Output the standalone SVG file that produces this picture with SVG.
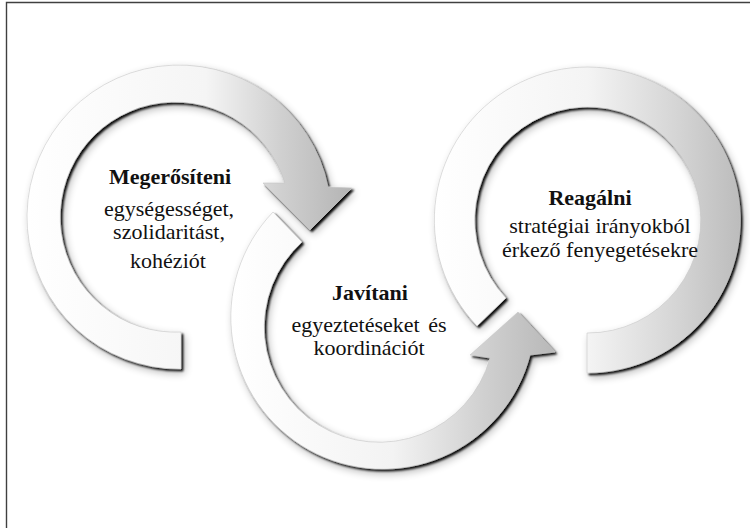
<svg xmlns="http://www.w3.org/2000/svg" width="750" height="528" viewBox="0 0 750 528">
  <style>
    .ring { stroke: #c8c8c8; stroke-width: 0.6; filter: url(#shadow); }
    .title { font-size: 22px; font-weight: bold; fill: #111; text-anchor: middle; }
    .body { font-size: 22px; font-weight: normal; fill: #111; text-anchor: middle; }
    .frame { stroke: #404040; stroke-width: 1.4; fill: none; }
  </style>
  <defs>
    <filter id="shadow" x="-10%" y="-10%" width="125%" height="125%">
      <feGaussianBlur in="SourceAlpha" stdDeviation="1.2" result="b1"/>
      <feOffset in="b1" dx="1.5" dy="2" result="o1"/>
      <feComponentTransfer in="o1" result="s1"><feFuncA type="linear" slope="0.95"/></feComponentTransfer>
      <feGaussianBlur in="SourceAlpha" stdDeviation="4" result="b2"/>
      <feOffset in="b2" dx="3" dy="4" result="o2"/>
      <feComponentTransfer in="o2" result="s2"><feFuncA type="linear" slope="0.3"/></feComponentTransfer>
      <feMerge><feMergeNode in="s2"/><feMergeNode in="s1"/><feMergeNode in="SourceGraphic"/></feMerge>
    </filter>
    <linearGradient id="g1" x1="0" y1="0" x2="1" y2="0">
      <stop offset="0" stop-color="#ffffff"/>
      <stop offset="0.55" stop-color="#f5f5f5"/>
      <stop offset="0.78" stop-color="#d0d0d0"/>
      <stop offset="1" stop-color="#b4b4b4"/>
    </linearGradient>
    <linearGradient id="g2" x1="0" y1="0" x2="1" y2="0">
      <stop offset="0" stop-color="#ffffff"/>
      <stop offset="0.5" stop-color="#f3f3f3"/>
      <stop offset="0.78" stop-color="#d0d0d0"/>
      <stop offset="1" stop-color="#b8b8b8"/>
    </linearGradient>
    <linearGradient id="g3" x1="0" y1="0" x2="1" y2="0">
      <stop offset="0" stop-color="#ffffff"/>
      <stop offset="0.5" stop-color="#f4f4f4"/>
      <stop offset="0.8" stop-color="#d4d4d4"/>
      <stop offset="1" stop-color="#bcbcbc"/>
    </linearGradient>
  </defs>
  <rect x="0" y="0" width="750" height="528" fill="#ffffff"/>
  <path class="frame" d="M 6.5 528 L 6.5 2.5 L 750 2.5"/>

  <g id="connectors"></g>

  <g font-family="'Liberation Serif', Tinos, 'Times New Roman', 'DejaVu Serif', serif">
    <g id="node-megerositeni">
      <path class="ring" fill="url(#g1)" d="M 181 369 A 152 152 0 1 1 328 187 L 352 188 L 310 230 L 263 183 L 285 183 A 115 115 0 1 0 181 332 Z"/>
      <text class="title" x="170" y="184">Megerősíteni</text>
      <text class="body" x="169" y="216">egységességet,</text>
      <text class="body" x="169" y="239">szolidaritást,</text>
      <text class="body" x="168" y="268">kohéziót</text>
    </g>

    <g id="node-javitani">
      <path class="ring" fill="url(#g2)" d="M 273 212 A 152 152 0 1 0 530 355 L 555 352 L 518 312 L 470 355 L 490 358 A 115 115 0 1 1 302 242 Z"/>
      <text class="title" x="370" y="300">Javítani</text>
      <text class="body" x="369" y="332" word-spacing="3">egyeztetéseket és</text>
      <text class="body" x="369" y="355">koordinációt</text>
    </g>

    <g id="node-reagalni">
      <path class="ring" fill="url(#g3)" d="M 477 326 A 153 153 0 1 1 587 373 L 587 333 A 113 113 0 1 0 506 298 Z"/>
      <text class="title" x="590" y="205">Reagálni</text>
      <text class="body" x="600" y="233">stratégiai irányokból</text>
      <text class="body" x="600" y="257">érkező fenyegetésekre</text>
    </g>
  </g>
</svg>
